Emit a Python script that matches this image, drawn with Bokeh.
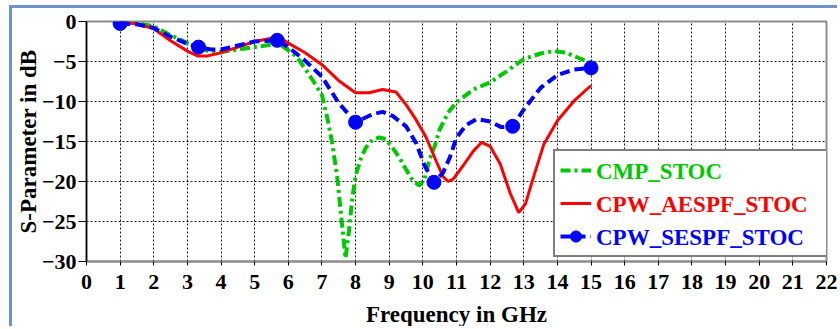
from bokeh.plotting import figure
from bokeh.models import Legend, LegendItem, FixedTicker, Range1d
from bokeh.embed import file_html
from bokeh.resources import INLINE

# ---------------- data ----------------
cmp_freq = [1, 1.5, 2, 2.5, 3, 3.33, 3.7, 4, 4.5, 5, 5.5, 5.8, 6, 6.25, 6.5, 6.75, 7,
            7.15, 7.3, 7.45, 7.6, 7.7, 7.8, 7.9, 8.0, 8.15, 8.3, 8.5, 8.7, 8.9, 9.1,
            9.3, 9.5, 9.7, 9.9, 10.05, 10.2, 10.35, 10.5, 10.75, 11, 11.5, 12, 12.5,
            13, 13.5, 13.9, 14.25, 14.6, 15]
cmp_db = [-0.1, -0.2, -0.6, -1.7, -2.7, -3.3, -3.8, -3.8, -3.5, -3.2, -2.9, -3.0, -3.6,
          -4.4, -5.9, -7.5, -9.2, -11.9, -15.1, -19.3, -25.5, -29.6, -26.3, -22.2, -19.3,
          -17.2, -15.8, -14.8, -14.5, -14.7, -15.8, -17.0, -18.5, -19.9, -20.5, -19.7,
          -17.2, -15.6, -13.5, -11.4, -10.1, -8.5, -7.6, -6.2, -4.7, -4.0, -3.7, -3.9,
          -4.5, -5.2]

aes_freq = [1, 1.5, 2, 2.5, 3, 3.3, 3.6, 4, 4.5, 5, 5.5, 5.8, 6, 6.5, 7, 7.5, 8, 8.4,
            8.8, 9.2, 9.5, 9.8, 10.1, 10.4, 10.6, 10.75, 10.9, 11.2, 11.5, 11.75, 12,
            12.3, 12.6, 12.85, 13.05, 13.3, 13.6, 14, 14.5, 15]
aes_db = [-0.1, -0.3, -0.9, -2.4, -3.7, -4.3, -4.3, -3.9, -3.2, -2.5, -2.1, -2.2, -2.7,
          -3.9, -5.4, -7.4, -8.9, -8.9, -8.5, -8.8, -10.4, -12.3, -14.5, -17.5, -19.4,
          -20.0, -19.7, -18.0, -16.2, -15.1, -15.6, -17.8, -21.5, -23.9, -22.8, -19.3,
          -15.3, -12.4, -9.9, -8.0]

ses_freq = [1, 1.5, 2, 2.5, 3, 3.33, 3.7, 4, 4.5, 5, 5.67, 6, 6.5, 7, 7.5, 8, 8.5, 8.8,
            9.1, 9.5, 9.8, 10.05, 10.33, 10.6, 10.8, 11, 11.3, 11.6, 12, 12.33, 12.67,
            13, 13.5, 14, 14.5, 15]
ses_db = [-0.25, -0.35, -0.8, -1.9, -2.8, -3.2, -3.5, -3.5, -3.0, -2.5, -2.35, -3.2,
          -4.9, -6.9, -10.2, -12.6, -11.6, -11.3, -11.8, -13.1, -15.2, -18.0, -20.1,
          -18.9, -17.0, -14.5, -12.9, -12.2, -12.5, -13.2, -13.1, -11.0, -8.3, -6.7,
          -6.0, -5.8]
ses_marker_freq = [1, 3.33, 5.67, 8, 10.33, 12.67, 15]
ses_marker_db = [ses_db[ses_freq.index(f)] for f in ses_marker_freq]

x_ticks = list(range(0, 23))
y_ticks = list(range(-30, 1, 5))
series_names = ["CMP_STOC", "CPW_AESPF_STOC", "CPW_SESPF_STOC"]

# ---------------- styling ----------------
FONT = "Liberation Serif"
GREEN = "#00c800"
RED = "#ff0000"
BLUE = "#0000ff"

p = figure(width=828, height=321, x_range=Range1d(0, 22), y_range=Range1d(-30, 0),
           output_backend="svg", toolbar_location=None,
           min_border_left=73, min_border_right=14, min_border_top=13, min_border_bottom=66)
p.styles = {"margin-left": "9px", "margin-top": "5px",
            "border-left": "3px solid #6d94cc", "border-top": "3px solid #6d94cc"}
p.background_fill_color = "white"
p.border_fill_color = "white"
p.outline_line_color = "#8c8c8c"
p.outline_line_width = 2

p.xaxis.ticker = FixedTicker(ticks=x_ticks)
p.yaxis.ticker = FixedTicker(ticks=y_ticks)
p.xgrid.ticker = FixedTicker(ticks=x_ticks)
p.ygrid.ticker = FixedTicker(ticks=y_ticks)
for g in (p.xgrid, p.ygrid):
    g.grid_line_color = "black"
    g.grid_line_dash = "2 2"
    g.grid_line_width = 1
    g.grid_line_alpha = 0.9

for ax in (p.xaxis, p.yaxis):
    ax.major_label_text_font = FONT
    ax.major_label_text_font_style = "bold"
    ax.major_label_text_font_size = "22px"
    ax.major_label_text_color = "black"
    ax.axis_label_text_font = FONT
    ax.axis_label_text_font_style = "bold"
    ax.axis_label_text_font_size = "23px"
    ax.axis_label_text_color = "black"
    ax.minor_tick_line_color = None
    ax.major_tick_in = 0
    ax.major_tick_line_color = "black"

p.xaxis.axis_label = "Frequency in GHz"
p.xaxis.axis_line_color = "#8c8c8c"
p.xaxis.axis_line_width = 2
p.xaxis.major_tick_out = 4
p.xaxis.major_label_standoff = 9
p.xaxis.axis_label_standoff = 10

p.yaxis.axis_label = "S-Parameter in dB"
p.yaxis.axis_line_color = "black"
p.yaxis.axis_line_width = 1.5
p.yaxis.major_tick_out = 8
p.yaxis.major_label_standoff = 2
p.yaxis.axis_label_standoff = -2

# ---------------- series ----------------
g_line = p.line(cmp_freq, cmp_db, line_color=GREEN, line_width=4, line_dash="10 4 3 4")
r_line = p.line(aes_freq, aes_db, line_color=RED, line_width=3)
b_line = p.line(ses_freq, ses_db, line_color=BLUE, line_width=4, line_dash="10 5")
b_mark = p.scatter(ses_marker_freq, ses_marker_db, size=14, color=BLUE)

# ---------------- legend ----------------
common = dict(padding=5, spacing=5, margin=0, glyph_width=31, glyph_height=28,
              label_height=28, label_standoff=7, label_text_font=FONT,
              label_text_font_style="bold", label_text_font_size="23px")

box = Legend(items=[LegendItem(label=" ", renderers=[g_line]),
                    LegendItem(label=" ", renderers=[r_line]),
                    LegendItem(label=" ", renderers=[b_line, b_mark])],
             location=(467, 4), label_width=223,
             border_line_color="black", border_line_width=2,
             background_fill_color="white", background_fill_alpha=1, **common)
p.add_layout(box)

dummy = p.line(x=[], y=[], line_alpha=0)
for k, (name, col) in enumerate(zip(series_names, [GREEN, RED, BLUE])):
    lg = Legend(items=[LegendItem(label=name, renderers=[dummy])],
                location=(467, 4 + (2 - k) * 33), label_text_color=col,
                border_line_alpha=0, background_fill_alpha=0, **common)
    p.add_layout(lg)

open("out.html", "w").write(file_html(p, INLINE))
